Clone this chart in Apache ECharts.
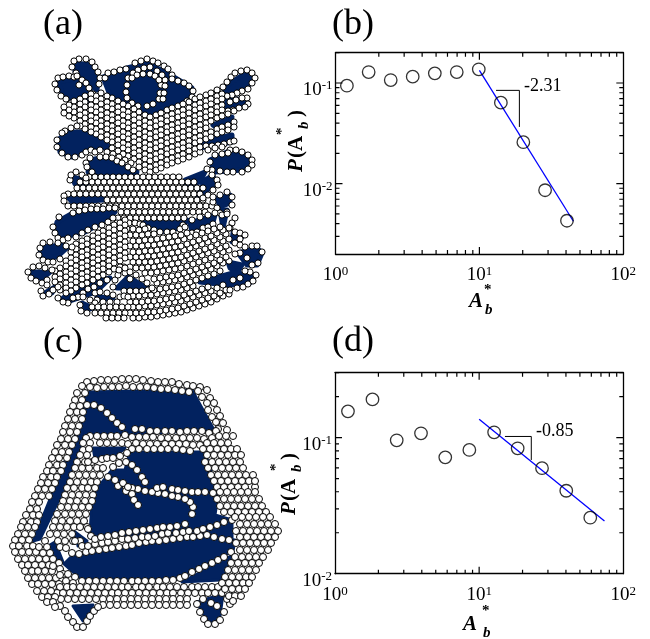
<!DOCTYPE html>
<html><head><meta charset="utf-8">
<script src="https://cdn.jsdelivr.net/npm/echarts@6/dist/echarts.min.js"></script>
<style>html,body{margin:0;padding:0;background:#fff}#c{width:650px;height:639px}</style>
</head><body><div id="c"></div>
<script>
// Panel (b)
const areaB = [1.2,1.7,2.42,3.44,4.9,6.96,9.9,14.1,20.2,28.6,40.6];
const probB = [0.094,0.1285,0.107,0.1156,0.1247,0.1285,0.1367,0.0638,0.0258,0.0086,0.00428];
const fitB = [[10,0.1336],[45,0.00423]];
const slopeB = [[13.05,0.0845],[18.96,0.0845],[18.96,0.0366]];
// Panel (d)
const areaD = [1.23,1.82,2.68,3.95,5.82,8.55,12.7,18.5,27.3,40.2,59];
const probD = [0.156,0.191,0.0956,0.1076,0.0716,0.0812,0.1094,0.0835,0.0596,0.0407,0.0258];
const fitD = [[10,0.1365],[74,0.0244]];
const slopeD = [[15.1,0.102],[23,0.102],[23,0.0685]];
// Ticks
const xMajor = [1,10,100];
const xMinor = [2,3,4,5,6,7,8,9,20,30,40,50,60,70,80,90];
const yMajor = [0.01,0.1];
const yMinorB = [0.003,0.004,0.005,0.006,0.007,0.008,0.009,0.02,0.03,0.04,0.05,0.06,0.07,0.08,0.09,0.2];
const yMinorD = [0.02,0.03,0.04,0.05,0.06,0.07,0.08,0.09,0.2,0.3];
// Packing (a): void regions, then bead centres
const regionsA = [
[75,63,92,65,98,80,97,90,87,83,75,72],[58,82,77,78,90,90,93,100,82,102,63,95],
[103,77,127,68,147,63,167,73,192,88,192,100,167,107,147,115,127,103,110,95],
[223,88,247,72,253,78,247,88,230,95],[228,98,245,100,240,107,225,108],[213,125,232,117,230,125,217,128],
[193,143,232,135,232,142,200,148],[58,140,67,132,87,132,110,147,87,150,72,157,60,152],
[90,160,100,158,117,163,137,172,135,178,95,178,88,172],[210,160,227,152,247,155,248,165,243,170,215,172],
[185,180,205,172,200,182,185,185],[205,180,213,175,215,185,197,197],[217,198,230,195,230,203,220,207],
[72,177,85,180,87,185,75,184],[68,197,103,195,103,200,72,202],
[57,222,73,213,115,212,107,220,83,233,63,237,55,230],[143,222,187,220,183,227,160,232,147,227],
[190,223,215,215,213,222,192,232],[220,210,227,210,223,228],[233,233,242,237,232,242],
[42,247,63,245,67,248,57,257,43,258,40,253],[238,253,257,248,262,253,257,265,247,265],
[228,262,242,265,237,273,230,268],[200,282,233,273,255,275,250,283,227,285],[32,272,50,272,43,278,33,278],
[45,293,55,287,52,293],[63,298,90,282,110,278,100,288,93,293,67,302],[117,288,128,277,147,288],
[82,303,93,308,87,310],[97,297,113,298,100,300]
];
const packingA = [
79,59,86,59,92,62,95,67,98,72,100,78,99,84,74,61,72,67,76,73,
55,84,58,78,63,77,69,76,74,77,77,76,82,80,86,83,89,88,93,94,79,85,57,90,61,96,66,99,71,103,76,107,
105,78,108,73,114,72,120,70,126,69,135,63,141,61,147,59,153,61,158,63,164,66,168,69,172,75,172,79,178,81,184,83,189,86,193,91,192,97,187,101,
127,85,126,92,127,98,132,103,138,106,147,106,153,104,159,99,160,93,161,85,165,80,162,75,157,71,150,67,144,68,138,70,133,73,128,78,143,74,137,75,132,78,150,74,155,76,159,80,165,86,164,93,163,99,
217,91,223,87,227,82,231,77,235,73,241,71,247,70,252,73,255,78,252,83,248,89,242,91,237,93,232,95,227,96,222,98,247,98,248,104,245,107,239,108,233,110,228,111,242,98,236,100,230,102,
145,115,139,112,134,109,128,106,123,104,118,101,112,98,107,96,101,93,150,117,156,115,161,113,167,110,172,108,178,106,183,104,189,102,195,99,200,97,206,95,211,93,217,90,
145,121,139,118,134,115,128,112,123,110,118,107,112,104,107,102,101,99,96,96,91,94,150,123,156,121,161,119,167,116,172,114,178,112,183,110,189,108,195,105,200,103,206,101,211,99,217,96,222,94,
145,126,139,123,134,120,128,117,123,115,118,112,112,109,107,107,101,104,96,101,91,99,85,96,150,128,156,126,161,124,167,121,172,119,178,117,183,115,189,113,195,110,200,108,206,106,211,104,217,101,222,99,
145,132,139,129,134,126,128,123,123,121,118,118,112,115,107,113,101,110,96,107,91,105,85,102,80,99,150,134,156,132,161,130,167,127,172,125,178,123,183,121,189,119,195,116,200,114,206,112,211,110,217,107,222,105,
145,137,139,134,134,131,128,128,123,126,118,123,112,120,107,118,101,115,96,112,91,110,85,107,80,104,74,101,150,139,156,137,161,135,167,132,172,130,178,128,183,126,189,124,195,121,200,119,206,117,211,115,217,112,222,110,
145,143,139,140,134,137,128,134,123,132,118,129,112,126,107,124,101,121,96,118,91,116,85,113,80,110,74,107,69,105,150,145,156,143,161,141,167,138,172,136,178,134,183,132,189,130,195,127,200,125,206,123,211,121,217,118,222,116,228,114,234,111,
145,148,139,145,134,142,128,139,123,137,118,134,112,131,107,129,101,126,96,123,91,121,85,118,80,115,74,112,69,110,64,107,150,150,156,148,161,146,167,143,172,141,178,139,183,137,189,135,195,132,200,130,206,128,
145,154,139,151,134,148,128,145,123,143,118,140,112,137,107,135,101,132,96,129,91,127,85,124,80,121,74,118,69,116,64,113,150,156,156,154,161,152,167,149,172,147,178,145,183,143,189,141,195,138,200,136,206,134,211,132,217,129,222,127,228,125,234,122,
145,159,139,156,134,153,128,150,123,148,118,145,112,142,107,140,101,137,96,134,91,132,85,129,80,126,150,161,156,159,161,157,167,154,172,152,178,150,183,148,189,146,195,143,200,141,206,139,211,137,217,134,222,132,228,130,234,127,
145,165,139,162,134,159,128,156,123,154,118,151,112,148,150,167,156,165,161,163,167,160,172,158,178,156,183,154,189,151,195,149,
145,170,139,167,150,172,156,170,161,168,167,165,172,163,178,161,183,159,189,157,195,154,200,152,
65,131,71,128,77,126,62,133,57,140,57,147,62,153,68,157,75,157,82,155,86,152,91,150,95,152,100,150,107,152,113,154,119,157,125,160,131,163,100,157,106,157,112,158,117,161,122,163,128,167,133,170,90,158,86,163,87,167,92,172,95,177,
200,147,206,146,212,146,218,145,224,144,230,142,234,141,
208,150,215,148,222,147,230,150,236,150,242,152,248,155,252,160,252,165,248,169,242,172,233,172,227,172,220,171,212,170,210,162,215,155,222,154,228,153,
89,177,95,177,101,177,107,177,113,177,119,177,125,177,131,177,137,177,143,177,149,177,155,177,161,177,167,177,173,177,179,177,
80,182,86,182,92,182,98,182,104,182,110,182,116,182,122,182,128,182,134,182,140,182,146,182,152,182,158,182,164,182,170,182,176,182,182,182,188,182,194,182,
77,188,83,188,89,188,95,188,101,188,107,188,113,188,119,188,125,188,131,188,137,188,143,188,149,188,155,188,161,188,167,188,173,188,179,188,185,188,191,188,197,188,203,188,
68,194,74,194,80,194,86,194,92,194,98,194,104,194,110,194,116,194,122,194,128,194,134,194,140,194,146,194,152,194,158,194,164,194,170,194,176,194,182,194,188,194,194,194,200,194,
107,200,113,200,119,200,125,200,131,200,137,200,143,200,149,200,155,200,161,200,167,200,173,200,179,200,185,200,191,200,197,200,203,200,64,196,64,201,
68,206,74,206,80,206,86,206,92,206,98,206,104,206,110,206,116,206,122,206,128,206,134,206,140,206,146,206,152,206,158,206,164,206,170,206,176,206,182,206,188,206,194,206,200,206,206,206,212,206,
73,213,79,211,85,210,91,209,97,209,103,209,109,208,115,208,121,212,127,212,133,212,139,212,145,212,151,212,157,212,163,212,169,212,175,212,181,212,187,212,193,212,199,212,205,212,
118,218,124,218,130,218,136,218,142,218,148,218,154,218,160,218,166,218,172,218,178,218,184,218,117,223,123,223,129,223,135,223,140,224,
70,180,71,175,76,172,82,175,86,178,217,180,218,185,213,190,208,195,203,198,207,169,212,175,213,202,217,208,220,213,227,212,232,205,232,197,227,192,220,195,213,197,
183,225,192,220,200,217,208,215,215,213,222,215,227,214,235,218,232,223,230,228,235,232,240,233,245,235,240,239,235,243,240,245,245,247,252,246,257,246,262,252,258,263,252,265,247,258,240,253,235,254,
55,233,53,227,59,217,58,238,63,240,68,238,76,237,82,233,88,230,95,227,102,225,108,222,113,218,
143,225,148,228,154,230,160,232,167,232,173,232,180,229,185,227,192,233,197,232,203,228,208,227,213,224,
133,318,139,318,145,317,151,317,157,316,163,315,169,314,175,313,181,312,187,310,193,308,199,306,205,304,211,302,217,299,223,296,229,294,
130,313,136,313,142,313,148,312,154,312,160,311,166,310,172,309,178,308,184,306,190,304,196,302,202,300,208,298,214,296,220,293,226,290,
133,307,139,307,145,306,151,306,157,305,163,304,169,303,175,302,181,301,187,299,193,297,199,295,205,293,211,291,217,288,223,285,
130,302,136,302,142,302,148,301,154,301,160,300,166,299,172,298,178,297,184,295,190,293,196,291,202,289,208,287,
133,296,139,296,145,295,151,295,157,294,163,293,169,292,175,291,181,290,187,288,193,286,
124,291,130,291,136,291,142,291,148,290,154,290,160,289,166,288,172,287,178,286,184,284,190,282,196,280,202,278,208,276,214,274,220,271,
157,283,163,282,169,281,175,280,181,279,187,277,193,275,199,273,205,271,211,269,217,266,223,263,229,261,
154,279,160,278,166,277,172,276,178,275,184,273,190,271,196,269,202,267,208,265,214,263,220,260,226,257,
145,273,151,273,157,272,163,271,169,270,175,269,181,268,187,266,193,264,199,262,205,260,211,258,217,255,223,252,229,250,
124,267,130,267,136,268,142,268,148,267,154,267,160,266,166,265,172,264,178,263,184,261,190,259,196,257,202,255,208,253,214,251,220,248,226,246,
133,262,139,262,145,262,151,262,157,261,163,260,169,259,175,258,181,257,187,255,193,253,199,251,205,249,211,247,217,244,223,241,229,239,
130,257,136,257,142,257,148,256,154,256,160,255,166,254,172,253,178,252,184,250,190,248,196,246,202,244,208,242,214,240,220,237,226,234,
133,252,139,252,145,251,151,251,157,250,163,249,169,248,175,247,181,246,187,244,193,242,199,240,205,238,211,236,217,233,223,230,229,228,
130,246,136,246,142,246,148,245,154,245,160,244,166,243,172,242,178,241,184,239,190,237,196,235,202,233,208,231,214,229,220,227,
133,241,139,241,145,240,151,240,157,239,163,238,169,237,175,236,181,235,187,233,
130,235,136,235,142,235,148,234,154,234,127,229,133,229,139,230,145,229,
125,220,120,223,114,225,109,228,103,231,98,233,93,236,87,239,82,241,76,244,
125,225,120,228,114,230,109,233,103,236,98,238,93,241,87,244,82,246,76,249,71,252,
125,231,120,234,114,236,109,239,103,242,98,244,93,247,87,250,82,252,76,255,71,258,66,261,
125,236,120,239,114,241,109,244,103,247,98,249,93,252,87,255,82,257,76,260,71,263,66,266,60,268,55,271,
125,242,120,245,114,247,109,250,103,253,98,255,93,258,87,261,82,263,76,266,71,269,66,272,60,274,55,277,
125,247,120,250,114,252,109,255,103,258,98,260,93,263,87,266,82,268,76,271,71,274,66,277,60,279,55,282,
125,253,120,256,114,258,109,261,103,264,98,266,93,269,87,272,82,274,76,277,71,280,66,283,60,285,
125,258,120,261,114,263,109,266,103,269,98,271,93,274,87,277,82,279,76,282,71,285,66,288,60,290,
120,267,114,269,109,272,103,275,98,277,93,280,87,283,82,285,76,288,71,291,66,293,
40,248,43,243,50,242,58,243,66,246,72,247,39,255,43,260,48,262,53,262,60,259,
33,267,28,272,31,278,36,281,42,283,47,280,39,266,45,268,52,270,41,291,43,296,49,294,53,290,58,287,47,285,
113,287,115,280,118,275,125,273,130,272,136,275,142,279,147,283,152,288,
100,283,107,280,94,287,88,289,83,293,78,297,73,298,68,303,63,302,58,298,
95,293,100,292,107,293,113,295,120,297,97,300,103,302,110,302,117,302,83,297,90,300,95,303,
92,307,98,307,104,307,110,307,116,307,122,307,128,307,95,313,101,313,107,313,113,313,119,313,125,313,106,318,112,318,118,318,124,318,80,305,81,311,87,313,
230,290,237,288,243,287,248,284,253,281,256,275,250,272,245,271,233,280,240,278,
119,270,125,268,130,279,124,296,128,297
];
// Packing (c): void regions, then bead centres
const regionsC = [
[86,392,192,390,214,430,88,436,84,410],[84,415,85,435,65,487,40,539,33,541,55,487,72,443],
[130,452,205,452,218,495,215,515,232,520,232,540,205,535,90,535,92,500,100,485,112,470,125,470],
[64,564,83,581,180,579,233,551,235,540,207,537,150,543,72,556],[50,545,55,542,63,562,57,560],[75,532,87,541,78,546],
[93,448,125,448,117,455,95,458],[73,606,93,605,83,621],[197,602,223,594,220,616,213,624,203,614],[182,582,220,580,233,555]
];
const packingC = [
87,382,94,381,101,380,108,380,115,380,122,379,129,379,136,379,143,380,151,381,158,382,165,382,172,382,179,384,187,385,193,386,200,387,207,390,
82,386,90,387,97,388,104,387,112,387,119,387,126,386,133,387,140,387,147,387,154,388,161,389,168,389,175,390,182,391,189,392,
198,391,202,397,210,398,207,403,214,403,208,410,217,410,212,417,220,416,216,422,223,423,218,429,227,430,
135,429,142,429,150,431,157,431,165,431,172,431,180,432,187,431,194,431,202,431,209,433,216,431,
90,436,97,436,104,436,111,436,117,436,125,435,132,437,139,437,146,437,153,437,161,438,168,438,176,438,183,438,190,438,197,438,204,439,212,438,
100,443,107,443,114,443,122,443,128,444,136,443,143,444,150,444,157,444,165,444,172,444,179,444,186,444,193,445,200,445,
132,449,139,449,147,449,154,449,161,449,168,449,176,449,183,450,190,451,
86,438,83,443,90,443,83,450,89,449,80,455,87,455,77,462,85,462,92,462,
94,405,101,408,107,413,112,418,117,423,122,427,
77,393,85,393,75,400,82,400,73,406,80,406,87,405,70,412,77,412,83,412,68,419,75,419,82,419,65,426,72,426,79,426,63,432,70,432,77,432,61,439,68,439,75,439,57,445,65,445,72,445,55,452,62,452,69,452,52,458,59,458,67,458,49,465,57,465,63,465,47,471,53,471,61,471,43,477,51,477,57,477,41,483,48,483,55,483,
38,489,45,489,52,489,35,496,42,496,49,496,32,502,39,502,30,509,37,509,26,515,33,515,39,515,23,522,31,522,37,522,21,527,28,527,35,527,18,534,25,534,32,534,15,540,22,540,29,540,13,546,19,546,27,546,33,546,15,552,22,552,29,552,36,552,18,559,25,559,32,559,39,559,46,559,22,565,28,565,35,565,42,565,49,565,25,571,32,571,38,571,45,571,52,571,28,578,35,578,42,578,49,578,56,578,
75,468,82,468,89,468,97,468,103,468,72,475,79,475,86,475,93,475,100,475,70,482,77,482,84,482,91,482,97,482,
67,488,74,488,82,488,88,488,95,488,65,495,72,495,79,495,86,495,93,495,63,501,70,501,77,501,85,501,92,501,61,507,68,507,75,507,82,507,89,507,57,514,65,514,72,514,79,514,86,514,55,521,62,521,70,521,77,521,84,521,53,527,60,527,67,527,74,527,80,527,87,527,50,534,57,534,64,534,72,534,45,541,58,541,65,541,73,541,80,541,39,547,47,547,60,547,66,548,
43,553,50,553,53,559,59,563,53,566,60,569,63,574,68,574,60,575,75,577,66,581,73,583,59,584,
72,553,79,554,86,552,92,551,99,550,106,549,112,548,119,547,126,546,132,545,139,543,146,542,152,541,159,541,166,540,173,539,180,538,187,537,193,537,200,536,207,535,214,537,222,539,229,540,
75,541,82,546,88,546,95,544,102,543,108,542,115,541,122,539,128,539,135,538,142,537,148,537,155,536,162,534,168,533,176,533,183,532,189,531,197,531,203,529,
88,529,91,536,95,539,101,537,108,536,115,535,122,533,129,532,136,531,143,530,150,529,157,528,163,527,170,527,177,526,185,524,192,514,193,507,190,502,185,499,178,497,172,496,165,494,158,493,152,492,145,491,138,489,132,488,126,487,118,486,
210,527,217,525,224,522,232,520,172,489,178,490,185,491,192,492,198,492,205,492,213,493,157,488,163,487,126,491,132,494,134,500,138,505,
88,462,95,460,102,459,107,458,113,458,120,456,127,453,126,462,132,465,137,470,142,477,145,482,119,463,113,467,108,477,115,480,123,483,128,487,
82,581,89,581,96,581,103,581,110,581,117,581,124,581,132,581,138,581,145,581,152,581,159,581,166,580,173,580,180,578,185,576,192,572,199,569,205,566,212,563,218,560,224,557,231,552,
53,587,60,587,67,587,73,587,80,587,87,587,94,587,101,587,108,587,115,587,122,587,128,587,136,587,142,587,149,587,157,587,163,587,170,587,177,587,184,587,192,587,198,587,205,587,212,587,218,587,
57,593,63,593,70,593,77,593,84,593,91,593,98,593,105,593,112,593,118,593,125,593,132,593,139,593,146,593,153,593,160,593,167,593,173,593,181,593,188,593,195,593,202,593,208,593,215,593,222,593,228,593,
75,599,82,599,89,599,96,599,103,599,110,599,117,599,124,599,131,599,138,599,145,599,152,599,159,599,166,599,173,599,180,599,187,599,61,599,68,599,
103,605,110,605,117,605,124,605,131,605,138,605,145,605,152,605,159,605,166,605,173,605,180,605,187,605,
60,606,65,611,68,617,73,622,77,627,83,627,87,621,90,616,94,611,98,607,
32,584,38,584,45,584,52,584,37,591,44,591,51,591,42,597,48,597,55,597,47,602,53,602,55,607,
197,604,200,612,204,619,208,624,215,624,220,620,224,612,230,604,227,599,203,599,211,603,217,606,
217,487,224,487,231,487,238,487,245,487,255,487,220,492,227,492,234,492,241,492,248,492,255,492,217,499,224,499,231,499,238,499,245,499,252,499,259,499,220,506,227,506,234,506,241,506,248,506,255,506,262,506,224,512,231,512,238,512,245,512,252,512,259,512,266,512,
235,517,242,517,249,517,256,517,263,517,270,517,240,524,247,524,254,524,261,524,268,524,275,524,236,531,243,531,250,531,257,531,264,531,271,531,278,531,240,537,247,537,254,537,261,537,268,537,275,537,236,543,243,543,250,543,257,543,264,543,271,543,240,550,247,550,254,550,261,550,268,550,235,557,242,557,249,557,256,557,263,557,231,563,238,563,245,563,252,563,259,563,228,570,235,570,242,570,249,570,256,570,225,577,232,577,239,577,246,577,252,577,222,583,229,583,236,583,243,583,249,583,225,589,232,589,239,589,245,589,229,596,235,596,241,596,233,601,
219,436,226,436,233,436,207,443,214,443,221,443,228,443,203,449,210,449,217,449,224,449,231,449,237,449,207,455,214,455,221,455,228,455,235,455,241,455,205,462,212,462,219,462,226,462,233,462,240,462,208,468,215,468,222,468,229,468,236,468,243,468,211,475,218,475,225,475,232,475,239,475,246,475,253,475,214,481,221,481,228,481,235,481,242,481,249,481,255,481
];

const pairs = a => { const o = []; for (let i = 0; i < a.length; i += 2) o.push([a[i], a[i + 1]]); return o; };
const BLUE = '#02225f';
function regions(list,grow) {
  return { type:'custom', xAxisIndex:0, yAxisIndex:0, silent:true, clip:false,
    data:list.map((r,i)=>[0,0,i]),
    renderItem:(p,api)=>{ const r=list[api.value(2)];
      return {type:'polygon',shape:{points:pairs(r).map(q=>api.coord(q))},style:{fill:BLUE,stroke:BLUE,lineWidth:grow,lineJoin:'round'}}; } };
}
function beads(a,size){ return {type:'scatter',xAxisIndex:0,yAxisIndex:0,data:pairs(a),symbol:'circle',symbolSize:size,silent:true,
  itemStyle:{color:'#fff',borderColor:'#000',borderWidth:1,opacity:1}}; }
const SERIF='"Liberation Serif",serif';
const rich={n:{fontFamily:SERIF,fontSize:19,color:'#000'},s:{fontFamily:SERIF,fontSize:13,color:'#000',verticalAlign:'top',padding:[0,0,8,0]}};
const fmt=v=>`{n|10}{s|${Math.round(Math.log10(v))}}`;
const xAxes=[],yAxes=[];
function axisSet(list,grid,pos,min,max,major,labelled,margin,padding){
  list.push({gridIndex:grid,type:'log',logBase:10,min,max,position:pos,splitLine:{show:false},minorTick:{show:false},minorSplitLine:{show:false},
    axisLine:{show:true,onZero:false,lineStyle:{color:'#000',width:1.3}},axisTick:{show:false},
    axisLabel:labelled?{show:true,customValues:major,formatter:fmt,rich,margin,padding,hideOverlap:false,showMinLabel:true,showMaxLabel:true}:{show:false}});
}
xAxes.push({gridIndex:0,type:'value',min:0,max:650,show:false});
yAxes.push({gridIndex:0,type:'value',min:0,max:639,inverse:true,show:false});
const panel=(grid,yMin,yMax)=>{
  const base=xAxes.length;
  axisSet(xAxes,grid,'bottom',1,100,xMajor,true,11,[0,0,0,0]);
  axisSet(xAxes,grid,'top',1,100,xMajor,false);
  axisSet(yAxes,grid,'left',yMin,yMax,yMajor,true,3,[14,0,0,0]);
  axisSet(yAxes,grid,'right',yMin,yMax,yMajor,false);
  return base;
};
const iB=panel(1,0.002,0.2);
const iD=panel(2,0.01,0.3);
// inward tick marks on all four sides: broken line runs on each panel's log scales
const X_DECADE=144;
function tickRuns(i,vals,isX,len,lo,hi,decadeAcross){
  const f=Math.pow(10,len/decadeAcross), d=[];
  vals.forEach(v=>{
    if(isX){d.push([v,lo],[v,lo*f],[NaN,NaN],[v,hi],[v,hi/f],[NaN,NaN]);}
    else{d.push([lo,v],[lo*f,v],[NaN,NaN],[hi,v],[hi/f,v],[NaN,NaN]);}
  });
  return {type:'line',xAxisIndex:i,yAxisIndex:i,data:d,symbol:'none',silent:true,z:3,
    lineStyle:{color:'#000',width:1.2}};
}
function plot(i,xs,ys,fit,slope,yMin,yMax,yMinor,yDecade){
  return [
   tickRuns(i,xMajor.slice(1,2),true,7,yMin,yMax,yDecade),tickRuns(i,xMinor,true,4,yMin,yMax,yDecade),
   tickRuns(i,yMajor.filter(v=>v>yMin),false,7,1,100,X_DECADE),tickRuns(i,yMinor,false,4,1,100,X_DECADE),
   {type:'line',xAxisIndex:i,yAxisIndex:i,data:fit,symbol:'none',lineStyle:{color:'#0000ff',width:1.3},silent:true,z:3},
   {type:'line',xAxisIndex:i,yAxisIndex:i,data:slope,symbol:'none',lineStyle:{color:'#000',width:1},silent:true,z:3},
   {type:'scatter',xAxisIndex:i,yAxisIndex:i,data:xs.map((x,k)=>[x,ys[k]]),symbol:'circle',symbolSize:12.5,
     itemStyle:{color:'rgba(0,0,0,0)',borderColor:'#000',borderWidth:1.3},silent:true,z:4}
  ];
}
const T=(text,left,top,font)=>({type:'text',left,top,style:{text,font,fill:'#000'}});
const BI='italic bold 21px '+SERIF, BB='bold 21px '+SERIF, SUB='italic bold 15px '+SERIF, ST='bold 15px '+SERIF;
const graphic=[
 T('(a)',43,7,'36px '+SERIF),T('(b)',332,7,'36px '+SERIF),T('(c)',43,325,'36px '+SERIF),T('(d)',332,324,'36px '+SERIF),
 T('-2.31',524,77,'18px '+SERIF),T('-0.85',536,422,'18px '+SERIF),
 T('A',469,291,BI),T('b',485,303,SUB),T('*',484,283,ST),
 T('A',463,614,BI),T('b',483,626,SUB),T('*',482,604,ST),
];
const yTitle=(x,yBase,parts)=>parts.map(p=>({type:'text',x:x+p[3],y:yBase-p[2],rotation:Math.PI/2,style:{text:p[0],font:p[1],fill:'#000',textAlign:'left',textVerticalAlign:'middle'}}));
graphic.push(...yTitle(297,172,[['P',BI,0,0],['(A',BB,14,0],['b',SUB,43,7],['*',ST,37,-15],[')',BB,55,0]]));
graphic.push(...yTitle(290,515,[['P',BI,0,0],['(A',BB,14,0],['b',SUB,43,7],['*',ST,44,-14],[')',BB,55,0]]));
const option={animation:false,backgroundColor:'#fff',
 grid:[{left:0,top:0,width:650,height:639},{left:335.5,top:52.7,width:287.8,height:201.3},{left:335,top:372.7,width:288.3,height:201}],
 xAxis:xAxes,yAxis:yAxes,
 series:[regions(regionsA,5),beads(packingA,6.2),regions(regionsC,3),beads(packingC,7),
   ...plot(iB,areaB,probB,fitB,slopeB,0.002,0.2,yMinorB,100.5),...plot(iD,areaD,probD,fitD,slopeD,0.01,0.3,yMinorD,136)],
 graphic};
const chart=echarts.init(document.getElementById('c'),null,{renderer:'canvas'});
chart.setOption(option);
</script></body></html>
